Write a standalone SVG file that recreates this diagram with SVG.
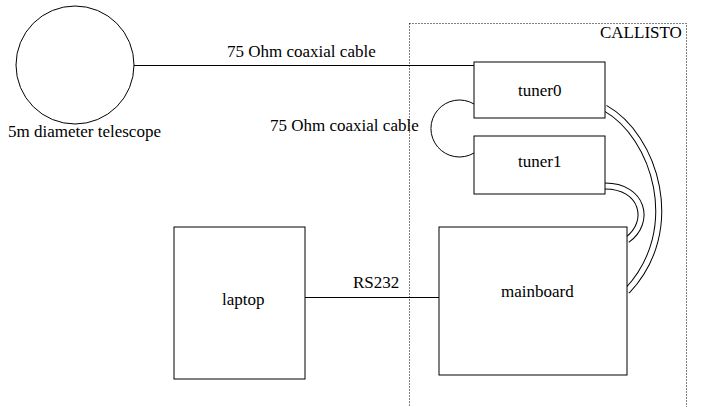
<svg xmlns="http://www.w3.org/2000/svg" width="702" height="407" viewBox="0 0 702 407">
<style>
.box{fill:#fff;stroke:#000;stroke-width:1}
.wire{fill:none;stroke:#000;stroke-width:1}
.cab-o{fill:none;stroke:#000;stroke-width:7}
.cab-i{fill:none;stroke:#fff;stroke-width:5}
</style>
<rect width="702" height="407" fill="#fff"/>
<g font-family="'Liberation Serif', 'Times New Roman', Times, 'DejaVu Serif', serif" font-size="17" fill="#000">
<g id="callisto">
<rect x="409.5" y="23.5" width="277" height="400" fill="none" stroke="#000" stroke-width="1" stroke-dasharray="1 2"/>
<text x="600" y="38">CALLISTO</text>
</g>
<g id="connectors">
<line class="wire" x1="134" y1="65.5" x2="474" y2="65.5"/>
<text x="227" y="57">75 Ohm coaxial cable</text>
<path class="wire" d="M474,104 A28.5,28.5 0 1 0 474,153"/>
<text x="270" y="131">75 Ohm coaxial cable</text>
<line class="wire" x1="305" y1="297.5" x2="439" y2="297.5"/>
<text x="353" y="288">RS232</text>
<path class="cab-o" d="M605,108 C655,136 685,230 627,291"/>
<path class="cab-i" d="M605,108 C655,136 685,230 627,291"/>
<path class="cab-o" d="M605,186 C643,186 652,222 627,240"/>
<path class="cab-i" d="M605,186 C643,186 652,222 627,240"/>
</g>
<g id="telescope">
<circle class="wire" cx="75" cy="65" r="59"/>
<text x="8" y="137">5m diameter telescope</text>
</g>
<g id="tuner0">
<rect class="box" x="474" y="62" width="131" height="56"/>
<text x="518" y="96">tuner0</text>
</g>
<g id="tuner1">
<rect class="box" x="474" y="136" width="131" height="58"/>
<text x="518" y="167">tuner1</text>
</g>
<g id="mainboard">
<rect class="box" x="439" y="227" width="188" height="148"/>
<text x="501" y="297">mainboard</text>
</g>
<g id="laptop">
<rect class="box" x="174" y="227" width="131" height="152"/>
<text x="222" y="305">laptop</text>
</g>
</g>
</svg>
